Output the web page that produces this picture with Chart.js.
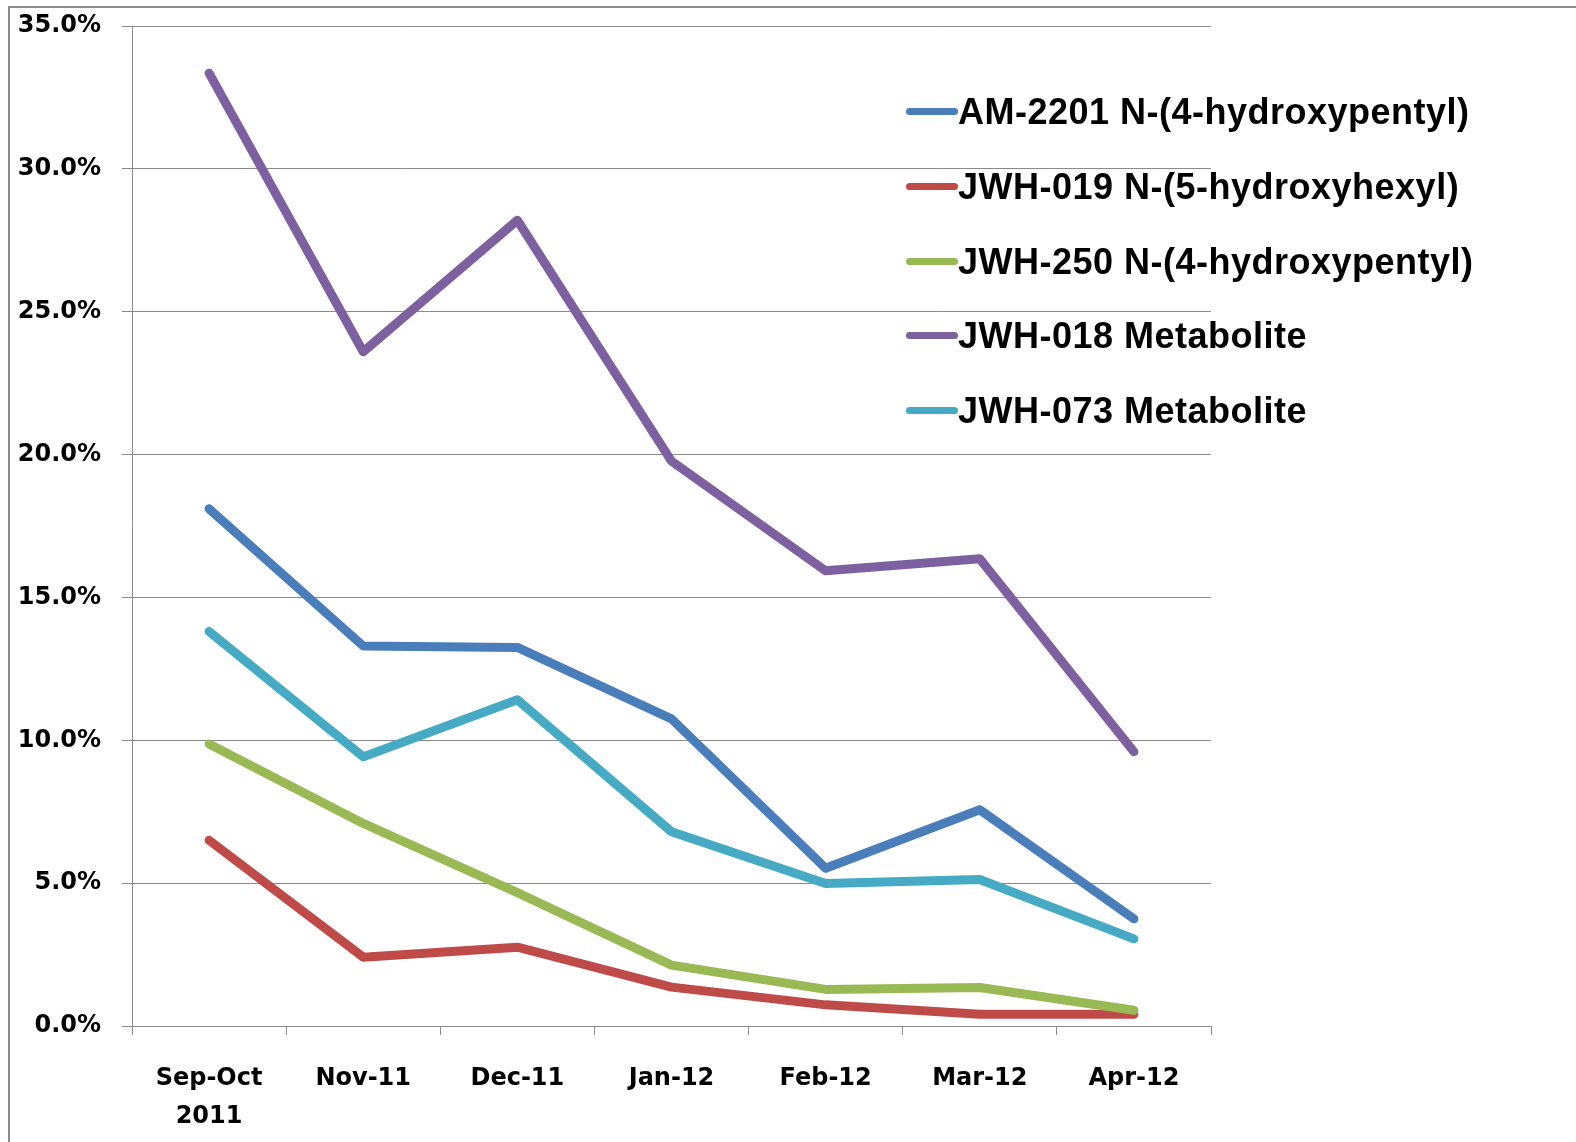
<!DOCTYPE html>
<html>
<head>
<meta charset="utf-8">
<script src="https://cdn.jsdelivr.net/npm/chart.js@4.4.1/dist/chart.umd.min.js"></script>
<style>
  html, body { margin: 0; padding: 0; background: #fff; }
  body { width: 1576px; height: 1142px; position: relative; overflow: hidden; }
  #frame { position: absolute; left: 8px; top: 6px; width: 1600px; height: 1200px;
           border-left: 2px solid #8c8c8c; border-top: 2px solid #8c8c8c; }
  #c { position: absolute; left: 0; top: 0; }
  #legend { position: absolute; left: 0; top: 0; }
  .row { position: absolute; left: 0; height: 40px; white-space: nowrap; }
  .swatch { position: absolute; left: 906px; top: 16px; width: 52px; height: 7px; border-radius: 4px; }
  .label { position: absolute; left: 958px; top: 0; line-height: 40px;
           font-family: "Liberation Sans", Arial, sans-serif; font-weight: bold; font-size: 36px; color: #000;
           letter-spacing: 0.5px; }
</style>
</head>
<body>
<div id="frame"></div>
<canvas id="c" width="1576" height="1142"></canvas>
<div id="legend"></div>
<script>
const categories = [["Sep-Oct", "2011"], "Nov-11", "Dec-11", "Jan-12", "Feb-12", "Mar-12", "Apr-12"];
const seriesNames = [
  "AM-2201 N-(4-hydroxypentyl)",
  "JWH-019 N-(5-hydroxyhexyl)",
  "JWH-250 N-(4-hydroxypentyl)",
  "JWH-018 Metabolite",
  "JWH-073 Metabolite"
];
const am2201 = [18.1, 13.3, 13.25, 10.75, 5.52, 7.57, 3.75];
const jwh019 = [6.5, 2.41, 2.76, 1.36, 0.74, 0.41, 0.41];
const jwh250 = [9.87, 7.09, 4.67, 2.13, 1.28, 1.35, 0.55];
const jwh018 = [33.35, 23.6, 28.2, 19.77, 15.93, 16.35, 9.6];
const jwh073 = [13.81, 9.42, 11.42, 6.8, 4.99, 5.13, 3.05];
const yTicks = { min: 0, max: 35, step: 5 };

const seriesValues = [am2201, jwh019, jwh250, jwh018, jwh073];
const colors = ["#4A7EBB", "#BE4B48", "#98B954", "#7D60A0", "#46AAC5"];

const datasets = seriesNames.map((name, i) => ({
  label: name,
  data: seriesValues[i],
  borderColor: colors[i],
  backgroundColor: colors[i],
  borderWidth: 9,
  pointRadius: 0,
  pointHoverRadius: 0,
  tension: 0,
  fill: false,
  borderCapStyle: "round",
  borderJoinStyle: "round",
  order: seriesNames.length - i
}));

const gridColor = "#8a8a8a";

const chart = new Chart(document.getElementById("c"), {
  type: "line",
  data: { labels: categories, datasets },
  options: {
    responsive: false,
    animation: false,
    devicePixelRatio: 1,
    layout: { padding: { left: 0, top: 26, right: 365, bottom: 0 } },
    plugins: { legend: { display: false }, tooltip: { enabled: false } },
    scales: {
      x: {
        offset: true,
        grid: { display: true, offset: true, drawOnChartArea: false, drawTicks: true, tickLength: 9, color: gridColor, lineWidth: 1 },
        border: { display: true, color: gridColor, width: 1 },
        ticks: {
          color: "#000", padding: 25, maxRotation: 0, autoSkip: false,
          font: { family: "DejaVu Sans", size: 24, weight: "bold", lineHeight: 1.58 }
        },
        afterFit: (s) => { s.height = 116; s.paddingLeft = 0; s.paddingRight = 0; }
      },
      y: {
        min: yTicks.min, max: yTicks.max,
        grid: { color: gridColor, lineWidth: 1, drawTicks: true, tickLength: 10 },
        border: { display: true, color: gridColor, width: 1 },
        ticks: {
          stepSize: yTicks.step, color: "#000", padding: 21,
          font: { family: "DejaVu Sans", size: 24, weight: "bold" },
          callback: (v) => Number(v).toFixed(1) + "%"
        },
        afterFit: (s) => { s.width = 132; s.paddingTop = 0; s.paddingBottom = 0; }
      }
    }
  }
});

// HTML legend built from the chart's datasets
const legend = document.getElementById("legend");
chart.data.datasets.forEach((ds, i) => {
  const row = document.createElement("div");
  row.className = "row";
  row.style.top = (92 + i * 74.8) + "px";
  const sw = document.createElement("span");
  sw.className = "swatch";
  sw.style.background = ds.borderColor;
  const lb = document.createElement("span");
  lb.className = "label";
  lb.textContent = ds.label;
  row.appendChild(sw);
  row.appendChild(lb);
  legend.appendChild(row);
});
</script>
</body>
</html>
